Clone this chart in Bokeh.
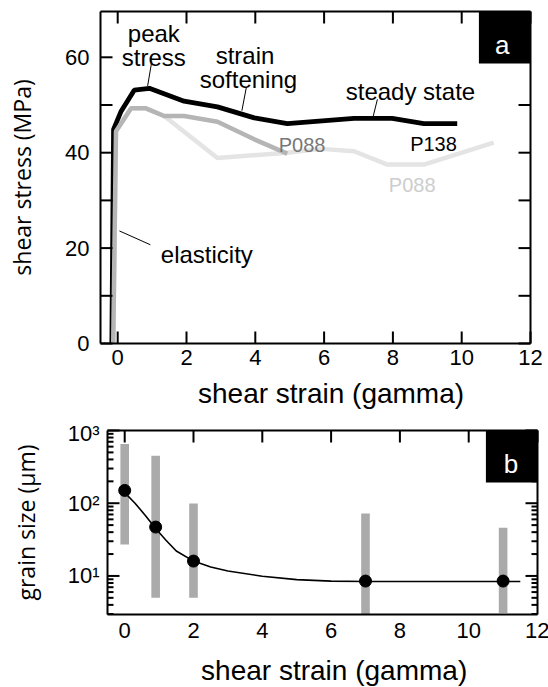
import math
from bokeh.plotting import figure
from bokeh.layouts import column, row
from bokeh.models import (Range1d, LinearAxis, LogAxis, FixedTicker, Label,
                          BoxAnnotation, Spacer)
from bokeh.embed import file_html
from bokeh.resources import INLINE

# ---------------- data: panel a (shear stress vs strain) ----------------
p138_strain = [-0.17, -0.12, 0.10, 0.48, 0.92, 1.93, 2.90, 3.97, 4.93, 6.87, 7.98, 8.90, 9.87]
p138_stress = [0.0, 44.9, 48.7, 53.1, 53.5, 50.8, 49.6, 47.3, 46.1, 47.2, 47.2, 46.1, 46.1]

p088a_strain = [-0.13, -0.05, 0.39, 0.82, 1.35, 1.93, 2.90, 3.97, 4.93]
p088a_stress = [0.0, 44.5, 49.3, 49.3, 47.7, 47.7, 46.5, 42.8, 39.8]

p088b_strain = [-0.13, -0.05, 0.39, 0.82, 1.35, 2.90, 4.93, 5.90, 6.87, 7.84, 8.90, 10.93]
p088b_stress = [0.0, 44.5, 49.3, 49.3, 47.7, 38.9, 40.0, 40.8, 40.3, 37.5, 37.5, 42.1]

stress_ticks = [0, 10, 20, 30, 40, 50, 60]
strain_ticks = [0, 2, 4, 6, 8, 10, 12]

# ---------------- data: panel b (grain size vs strain) ----------------
grain_strain = [0.0, 0.9, 2.0, 7.0, 11.0]
grain_mean = [150, 47, 16, 8.5, 8.5]
grain_max = [650, 450, 99, 72, 46]
grain_min = [27, 5.0, 5.0, 2.9, 3.1]

fit_strain = [0.0, 0.3, 0.6, 0.9, 1.2, 1.5, 2.0, 2.5, 3.0, 4.0, 5.0, 6.0, 7.0, 9.0, 11.0, 11.5]
fit_size = [140, 100, 68, 45, 31, 22, 16, 13.3, 11.7, 9.9, 8.9, 8.5, 8.4, 8.4, 8.4, 8.4]

grain_major = [10, 100, 1000]
grain_minor = [3, 4, 5, 6, 7, 8, 9, 20, 30, 40, 50, 60, 70, 80, 90,
               200, 300, 400, 500, 600, 700, 800, 900]
grain_labels = {10: "10¹", 100: "10²", 1000: "10³"}

X_MIN, X_MAX = -0.5, 12
YA_MIN, YA_MAX = 0, 69.6
YB_MIN, YB_MAX = 2.95, 1000
FW, FHA, FHB = 430, 332, 184

SANS = "Liberation Sans"
YFONT = "Open Sans"
NB = "\u00a0"

# one pixel in data units
DX = (X_MAX - X_MIN) / FW
DYA = (YA_MAX - YA_MIN) / FHA
LB = (math.log10(YB_MAX) - math.log10(YB_MIN)) / FHB   # decades per pixel


def style_axis(ax, show_labels=True):
    ax.axis_line_width = 2
    ax.axis_line_color = "black"
    ax.major_tick_in = 0
    ax.major_tick_out = 0
    ax.minor_tick_in = 0
    ax.minor_tick_out = 0
    ax.major_tick_line_color = None
    ax.minor_tick_line_color = None
    if show_labels:
        ax.major_label_text_font = SANS
        ax.major_label_text_font_size = "22px"
        ax.major_label_text_color = "black"
        ax.axis_label_text_color = "black"
        ax.axis_label_text_font_style = "normal"
    else:
        ax.major_label_text_font_size = "0px"
        ax.major_label_standoff = 0
        ax.major_label_text_alpha = 0


def base_fig(**kw):
    p = figure(output_backend="svg", toolbar_location=None, **kw)
    p.xgrid.visible = False
    p.ygrid.visible = False
    p.outline_line_color = None
    p.background_fill_color = "white"
    p.border_fill_color = "white"
    return p


def note(p, x, y, text, size="24px", color="black", align="center", font=SANS):
    p.add_layout(Label(x=x, y=y, text=text, text_font=font, text_font_size=size,
                       text_color=color, text_align=align, text_baseline="alphabetic"))


def tick_segs(p, x0, y0, x1, y1):
    p.segment(x0=x0, y0=y0, x1=x1, y1=y1, line_color="black", line_width=2,
              level="overlay")


# ---------------- panel a ----------------
p1 = base_fig(frame_width=FW, frame_height=FHA, min_border_left=100, min_border_right=18,
              min_border_top=11, min_border_bottom=77,
              x_range=Range1d(X_MIN, X_MAX), y_range=Range1d(YA_MIN, YA_MAX))

st_over = {t: (str(t) if t % 20 == 0 else "") for t in stress_ticks}

p1.xaxis.ticker = FixedTicker(ticks=strain_ticks)
style_axis(p1.xaxis[0])
p1.xaxis.major_label_standoff = 6
p1.xaxis.axis_label = NB * 4 + "shear strain (gamma)"
p1.xaxis.axis_label_text_font = SANS
p1.xaxis.axis_label_text_font_size = "28px"
p1.xaxis.axis_label_standoff = 10

p1.yaxis.ticker = FixedTicker(ticks=stress_ticks)
p1.yaxis.major_label_overrides = st_over
style_axis(p1.yaxis[0])
p1.yaxis.major_label_standoff = 11
p1.yaxis.axis_label = "shear stress (MPa)"
p1.yaxis.axis_label_text_font = YFONT
p1.yaxis.axis_label_text_font_size = "23px"
p1.yaxis.axis_label_standoff = 24

top1 = LinearAxis(ticker=FixedTicker(ticks=strain_ticks))
style_axis(top1, show_labels=False)
p1.add_layout(top1, "above")
right1 = LinearAxis(ticker=FixedTicker(ticks=stress_ticks))
style_axis(right1, show_labels=False)
p1.add_layout(right1, "right")

# inward ticks on all four sides (12 px)
ns, nt = len(strain_ticks), len(stress_ticks)
tick_segs(p1, strain_ticks, [YA_MIN] * ns, list(strain_ticks), [YA_MIN + 12 * DYA] * ns)
tick_segs(p1, strain_ticks, [YA_MAX] * ns, list(strain_ticks), [YA_MAX - 12 * DYA] * ns)
tick_segs(p1, [X_MIN] * nt, stress_ticks, [X_MIN + 12 * DX] * nt, list(stress_ticks))
tick_segs(p1, [X_MAX] * nt, stress_ticks, [X_MAX - 12 * DX] * nt, list(stress_ticks))

p1.line(p088b_strain, p088b_stress, line_color="#e4e4e4", line_width=4.5)
p1.line(p138_strain, p138_stress, line_color="black", line_width=4.8)
p1.line(p088a_strain, p088a_stress, line_color="#b5b5b5", line_width=4.5)

# annotation leader lines
p1.segment(x0=[0.99, 3.74, 7.55, 0.05], y0=[59.1, 53.7, 51.2, 23.6],
           x1=[0.87, 3.61, 7.43, 0.95], y1=[54.0, 48.8, 47.7, 20.7],
           line_color="black", line_width=1)

note(p1, 1.05, 64.9, "peak")
note(p1, 1.05, 59.9, "stress")
note(p1, 3.70, 60.3, "strain")
note(p1, 3.80, 55.4, "softening")
note(p1, 8.51, 52.8, "steady state")
note(p1, 2.59, 18.7, "elasticity")
note(p1, 5.36, 41.7, "P088", size="20px", color="#777777")
note(p1, 9.18, 41.9, "P138", size="20px")
note(p1, 8.56, 33.2, "P088", size="20px", color="#cdcdcd")

p1.add_layout(BoxAnnotation(left=10.5, bottom=58.7, fill_color="black", fill_alpha=1,
                            line_color=None))
note(p1, 11.18, 62.6, "a", size="26px", color="white")

# ---------------- panel b ----------------
p2 = base_fig(frame_width=FW, frame_height=FHB, min_border_left=100, min_border_right=12,
              min_border_top=10, min_border_bottom=73,
              x_range=Range1d(X_MIN, X_MAX), y_range=Range1d(YB_MIN, YB_MAX),
              y_axis_type="log")

p2.xaxis.ticker = FixedTicker(ticks=strain_ticks)
style_axis(p2.xaxis[0])
p2.xaxis.major_label_standoff = 8
p2.xaxis.axis_label = NB * 3 + "shear strain (gamma)"
p2.xaxis.axis_label_text_font = SANS
p2.xaxis.axis_label_text_font_size = "28px"
p2.xaxis.axis_label_standoff = 14

p2.yaxis.ticker = FixedTicker(ticks=grain_major, minor_ticks=grain_minor)
p2.yaxis.major_label_overrides = grain_labels
style_axis(p2.yaxis[0])
p2.yaxis.major_label_standoff = 8
p2.yaxis.axis_label = "grain size (µm)"
p2.yaxis.axis_label_text_font = YFONT
p2.yaxis.axis_label_text_font_size = "23px"
p2.yaxis.axis_label_standoff = 23

top2 = LinearAxis(ticker=FixedTicker(ticks=strain_ticks))
style_axis(top2, show_labels=False)
p2.add_layout(top2, "above")
right2 = LogAxis(ticker=FixedTicker(ticks=grain_major, minor_ticks=grain_minor))
style_axis(right2, show_labels=False)
p2.add_layout(right2, "right")

f12 = 10 ** (12 * LB)
nm, nn = len(grain_major), len(grain_minor)
tick_segs(p2, strain_ticks, [YB_MAX] * ns, list(strain_ticks), [YB_MAX / f12] * ns)
tick_segs(p2, [X_MIN] * nm, grain_major, [X_MIN + 12 * DX] * nm, list(grain_major))
tick_segs(p2, [X_MAX] * nm, grain_major, [X_MAX - 12 * DX] * nm, list(grain_major))
tick_segs(p2, [X_MIN] * nn, grain_minor, [X_MIN + 6 * DX] * nn, list(grain_minor))
tick_segs(p2, [X_MAX] * nn, grain_minor, [X_MAX - 6 * DX] * nn, list(grain_minor))

p2.vbar(x=grain_strain, width=0.25, top=grain_max, bottom=grain_min,
        fill_color="#aaaaaa", line_color=None)
p2.line(fit_strain, fit_size, line_color="black", line_width=1.6)
p2.scatter(grain_strain, grain_mean, size=12, fill_color="black", line_color="black")

p2.add_layout(BoxAnnotation(left=10.5, bottom=192, fill_color="black", fill_alpha=1,
                            line_color=None))
note(p2, 11.23, 347, "b", size="26px", color="white")

layout = column(p1, row(Spacer(width=6, height=267), p2, spacing=0), spacing=0)
open("out.html", "w").write(file_html(layout, INLINE))
